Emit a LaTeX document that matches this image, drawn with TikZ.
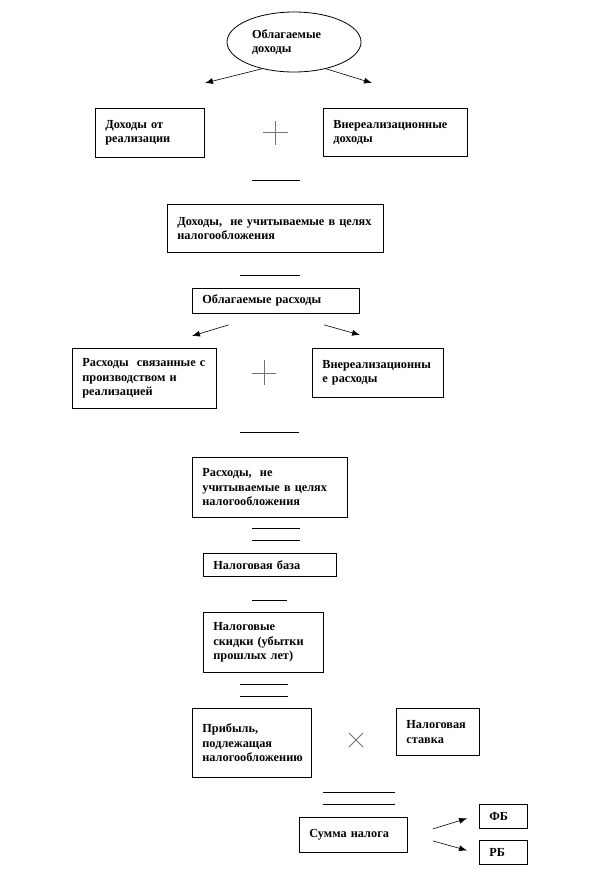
\documentclass[tikz,border=0pt]{standalone}
\usepackage{fontspec}
\setmainfont{Liberation Serif}
\usetikzlibrary{arrows.meta, shapes.geometric}

\begin{document}
\begin{tikzpicture}[x=1pt, y=-1pt,
		box/.style={draw, line width=0.8pt, anchor=north west, align=left, inner xsep=10pt, inner ysep=0pt, font=\fontsize{12.3}{14.5}\selectfont\bfseries},
		oval/.style={draw, ellipse, line width=0.8pt, align=left, inner sep=2pt, font=\fontsize{12.3}{14.5}\selectfont\bfseries},
		arrow/.style={-{Latex[length=8pt,width=6pt]}, line width=0.6pt},
		sign/.style={line width=0.8pt, black!55},
		bar/.style={line width=0.8pt}
		]
		\useasboundingbox (0,0) rectangle (612,876);
		
		% incomes
		\node[oval, minimum width=134pt, minimum height=60pt, text width=84pt] (inc) at (294,42) {Облагаемые\\доходы};
		\node[box, text width=89pt, minimum height=49pt] (sales) at (95,108) {Доходы от\\реализации};
		\node[box, text width=124pt, minimum height=48pt] (other) at (323,108) {Внереализационные\\доходы};
		\coordinate (inc-l) at (205,83);
		\coordinate (inc-r) at (372,83);
		\draw[arrow] (inc.220) -- (inc-l);
		\draw[arrow] (inc.-40) -- (inc-r);
		\draw[sign] (263,132) -- (288,132) (275,121) -- (275,145);
		\draw[bar] (252,180) -- (300,180);
		
		\node[box, text width=196pt, minimum height=48pt] (notinc) at (167,204) {Доходы,\ \ не учитываемые в целях\\налогообложения};
		\draw[bar] (240,275) -- (300,275);
		
		% expenses
		\node[box, text width=147pt, minimum height=25pt] (exp) at (192,288) {Облагаемые расходы};
		\node[box, text width=124pt, minimum height=60pt] (prod) at (72,348) {Расходы\ \ связанные с\\производством и\\реализацией};
		\node[box, text width=111pt, minimum height=49pt] (otherexp) at (312,348) {Внереализационны\\е расходы};
		\coordinate (exp-l) at (192,336);
		\coordinate (exp-r) at (360,335);
		\draw[arrow] ([shift={(-47pt,-11pt)}]exp.south) -- (exp-l);
		\draw[arrow] ([shift={(48pt,-11pt)}]exp.south) -- (exp-r);
		\draw[sign] (252,373) -- (276,373) (264,360) -- (264,385);
		\draw[bar] (240,432) -- (299,432);
		
		\node[box, text width=135pt, minimum height=60pt] (notexp) at (192,457) {Расходы,\ \ не\\учитываемые в целях\\налогообложения};
		\draw[bar] (252,528) -- (300,528) (252,540) -- (300,540);
		
		% base and tax
		\node[box, text width=113pt, minimum height=23pt] (base) at (203,553) {Налоговая база};
		\draw[bar] (252,600) -- (287,600);
		\node[box, text width=100pt, minimum height=60pt] (loss) at (203,612) {Налоговые\\скидки (убытки\\прошлых лет)};
		\draw[bar] (240,684) -- (288,684) (240,696) -- (288,696);
		
		\node[box, text width=99pt, minimum height=69pt] (profit) at (192,708) {Прибыль,\\подлежащая\\налогообложению};
		\node[box, text width=63pt, minimum height=47pt] (rate) at (396,708) {Налоговая\\ставка};
		\draw[sign] (349,733) -- (363,747) (349,747) -- (363,733);
		\draw[bar] (323,792) -- (395,792) (323,804) -- (395,804);
		
		\node[box, text width=88pt, minimum height=35pt] (tax) at (299,817) {Сумма налога};
		\node[box, text width=28pt, minimum height=24pt] (fb) at (479,804) {ФБ};
		\node[box, text width=28pt, minimum height=24pt] (rb) at (479,840) {РБ};
		\draw[arrow] ([shift={(25pt,6pt)}]tax.east) -- ([shift={(-12pt,-2pt)}]fb.west);
		\draw[arrow] ([shift={(25pt,-6pt)}]tax.east) -- ([shift={(-12pt,2pt)}]rb.west);
		
	\end{tikzpicture}
\end{document}
